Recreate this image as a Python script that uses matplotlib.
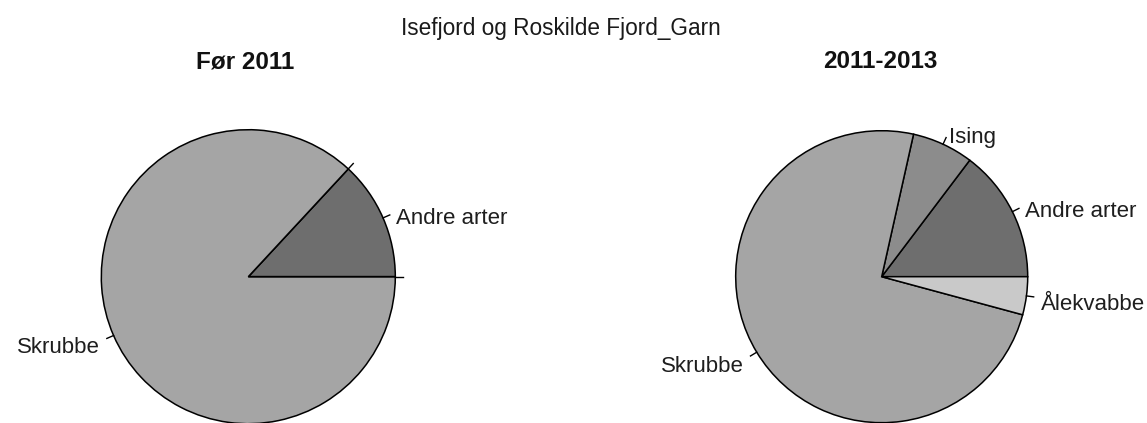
import matplotlib
matplotlib.use("Agg")
from matplotlib import pyplot as plt
import numpy as np

plt.rcParams['font.family'] = ['Liberation Sans', 'DejaVu Sans']

# species in the order R draws them (counter-clockwise from 3 o'clock)
species = ["Andre arter", "Ising", "Skrubbe", "Ålekvabbe"]
before_2011 = [0.131, 0.0, 0.869, 0.0]
after_2011 = [0.147, 0.068, 0.743, 0.042]
labels_before = ["Andre arter", "", "Skrubbe", ""]
labels_after = species
colours = ["#6e6e6e", "#8c8c8c", "#a5a5a5", "#c9c9c9"]

title = "Isefjord og Roskilde Fjord_Garn"
sub_titles = ["Før 2011", "2011-2013"]

W, H = 1147, 423
fig = plt.figure(figsize=(W / 100, H / 100), dpi=100)
ax = fig.add_axes([0, 0, 1, 1])


def draw_pie(cx, cy, r, values, labels):
    wedges, _ = ax.pie(values, colors=colours, startangle=0, counterclock=True,
                       center=(cx, cy), radius=r, normalize=True,
                       wedgeprops=dict(edgecolor='black', linewidth=1.1))
    for w, lab in zip(wedges, labels):
        mid = np.deg2rad((w.theta1 + w.theta2) / 2)
        c, s = np.cos(mid), np.sin(mid)
        ax.plot([cx + r * c, cx + 1.05 * r * c], [cy + r * s, cy + 1.05 * r * s],
                color='black', lw=1.0)
        if lab:
            # label sits a little below the label point, as in R
            ax.text(cx + 1.1 * r * c, cy + 1.1 * r * s - 12, lab, fontsize=16,
                    color='#1e1e1e', ha='left' if c > 0 else 'right', va='baseline')


draw_pie(248.3, H - 276.7, 147, before_2011, labels_before)
draw_pie(881.7, H - 276.7, 146, after_2011, labels_after)

ax.text(560.5, H - 35, title, fontsize=16.3, color='#1a1a1a', ha='center', va='baseline')
ax.text(245.5, H - 68.3, sub_titles[0], fontsize=17.5, fontweight='bold',
        color='#111111', ha='center', va='baseline')
ax.text(880, H - 68.3, sub_titles[1], fontsize=17.5, fontweight='bold',
        color='#111111', ha='center', va='baseline')

ax.set_aspect('auto')
ax.set_xlim(0, W)
ax.set_ylim(0, H)
ax.axis('off')

fig.savefig("out.png", dpi=100)
